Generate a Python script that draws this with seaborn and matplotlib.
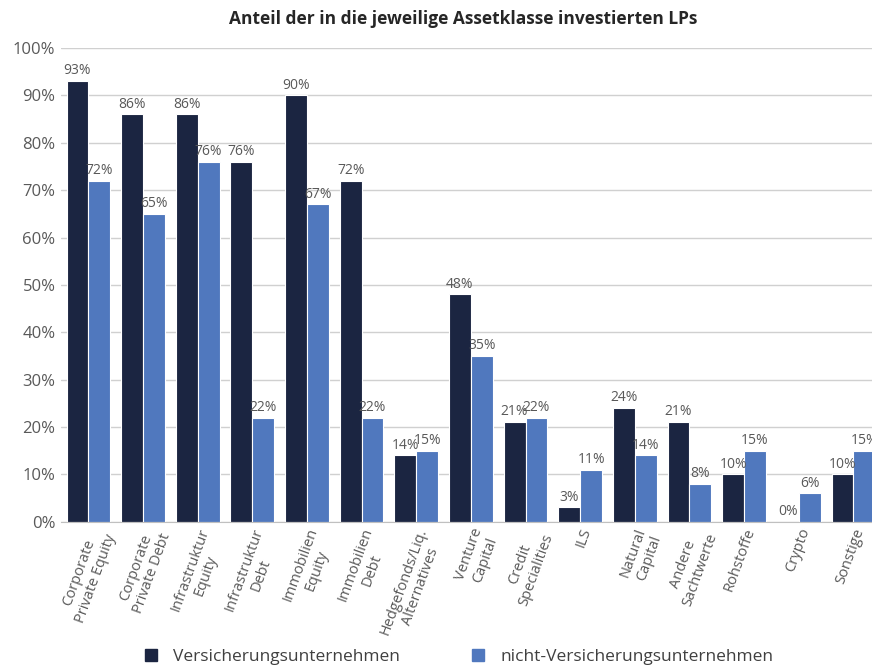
import seaborn as sns
import matplotlib.pyplot as plt
import pandas as pd

sns.set_style("white")
plt.rcParams['font.family'] = ['Open Sans', 'DejaVu Sans']

kategorien = ["Corporate\nPrivate Equity", "Corporate\nPrivate Debt", "Infrastruktur\nEquity",
              "Infrastruktur\nDebt", "Immobilien\nEquity", "Immobilien\nDebt",
              "Hedgefonds/Liq.\nAlternatives", "Venture\nCapital", "Credit\nSpecialities",
              "ILS", "Natural\nCapital", "Andere\nSachtwerte", "Rohstoffe", "Crypto", "Sonstige"]
versicherer = [93, 86, 86, 76, 90, 72, 14, 48, 21, 3, 24, 21, 10, 0, 10]
nicht_versicherer = [72, 65, 76, 22, 67, 22, 15, 35, 22, 11, 14, 8, 15, 6, 15]
gruppen = ["Versicherungsunternehmen", "nicht-Versicherungsunternehmen"]
farben = ["#1b2541", "#5078be"]

df = pd.DataFrame({
    "Kategorie": kategorien * 2,
    "Anteil": versicherer + nicht_versicherer,
    "Gruppe": [gruppen[0]] * len(kategorien) + [gruppen[1]] * len(kategorien),
})

fig = plt.figure(figsize=(8.72, 6.68), dpi=100)
ax = fig.add_axes([0.07, 0.219, 0.94, 0.709])

sns.barplot(data=df, x="Kategorie", y="Anteil", hue="Gruppe", palette=farben,
            saturation=1, width=0.8, edgecolor="white", linewidth=0.8, ax=ax)

for cont, werte in zip(ax.containers, [versicherer, nicht_versicherer]):
    ax.bar_label(cont, labels=[f"{v}%" for v in werte], padding=2,
                 fontsize=10, color="#595959")

ax.set_ylim(0, 100)
ax.set_xlim(-0.5, len(kategorien) - 0.5)
ax.set_yticks(range(0, 101, 10))
ax.set_yticklabels([f"{v}%" for v in range(0, 101, 10)], fontsize=12, color="#595959")
ax.yaxis.grid(True, color="#d0d0d0", linewidth=1)
ax.set_axisbelow(True)
ax.set_xlabel("")
ax.set_ylabel("")
ax.tick_params(axis="x", length=0, pad=3)
ax.tick_params(axis="y", length=0, pad=4)
plt.setp(ax.get_xticklabels(), rotation=70, ha="right", rotation_mode="anchor",
         fontsize=10.5, color="#595959", multialignment="center")
for s in ["top", "right", "left"]:
    ax.spines[s].set_visible(False)
ax.spines["bottom"].set_color("#c0c0c0")

ax.legend_.remove()
handles = [plt.Line2D([], [], marker="s", linestyle="", markersize=8, color=c) for c in farben]
fig.legend(handles, gruppen, loc="center", bbox_to_anchor=(0.52, 0.017), ncol=2,
           frameon=False, fontsize=12.5, handletextpad=0.3, columnspacing=3.5,
           labelcolor="#404040")

fig.suptitle("Anteil der in die jeweilige Assetklasse investierten LPs", x=0.531, y=0.985,
             fontsize=12.5, fontweight="bold")

fig.savefig("out.png", dpi=100)
